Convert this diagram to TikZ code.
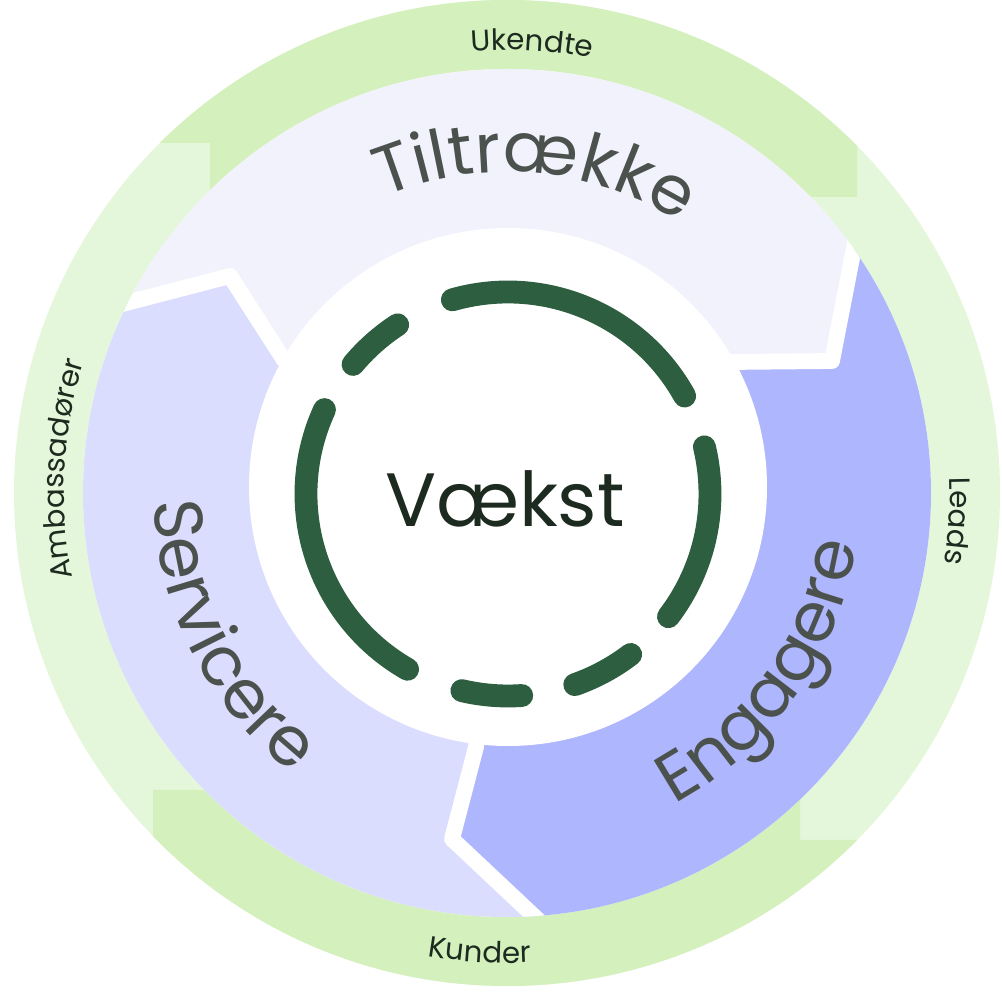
\documentclass[tikz,border=0pt]{standalone}
\usepackage{fontspec}
\setmainfont{Poppins}
\usetikzlibrary{decorations.text}

\definecolor{greendark}{HTML}{D4F0BC}
\definecolor{greenlight}{HTML}{E5F7DA}
\definecolor{tiltfill}{HTML}{F2F2FD}
\definecolor{servfill}{HTML}{DADDFE}
\definecolor{engfill}{HTML}{AEB6FD}
\definecolor{dashgreen}{HTML}{2C5E3F}
\definecolor{phasegray}{HTML}{4B514C}
\definecolor{labeldark}{HTML}{1D2A1F}

\newcommand*{\rout}{493}
\newcommand*{\rmid}{424}
\newcommand*{\rdisk}{259}
\newcommand*{\rdash}{202}
\newcommand*{\phasefont}{\fontsize{39}{41}\selectfont}
\newcommand*{\stagefont}{\fontsize{16.7}{18}\selectfont}

\begin{document}
\begin{tikzpicture}
[
	x=0.02cm, y=0.02cm,
	stagetext/.style={decorate,decoration={text along path,text align=center,text color=labeldark,text={|\stagefont|#1}}},
	phasetext/.style={decorate,decoration={text along path,text align=center,text color=phasegray,text={|\phasefont|#1}}},
	dashseg/.style={draw=dashgreen,line width=13pt,line cap=round},
	gapline/.style={draw=white,line width=9pt,line join=round}
]

	\useasboundingbox (0,0) rectangle (1002,1002);
	\coordinate (mid) at (507,509);
	\coordinate (disk) at (508,515);
	\coordinate (hub) at (508,508);

	% outer ring
	\fill[greenlight] (mid) circle[radius=\rout];
	\begin{scope}
		\clip (mid) circle[radius=\rout];
		\fill[greendark] (210,859) -- (100,859) -- (100,1100) -- (857,1100) -- (857,805) -- (700,805) -- (507,509) -- (210,700) -- cycle;
		\fill[greendark] (153,212) -- (310,212) -- (507,509) -- (800,300) -- (800,162) -- (950,162) -- (950,-100) -- (153,-100) -- cycle;
	\end{scope}
	\fill[white] (mid) circle[radius=\rmid];

	% phases
	\begin{scope}
		\clip (mid) circle[radius=\rmid];
		\fill[tiltfill] (507,509) -- (284,642) -- (230,726) -- (30,674) -- (-100,1100) -- (1100,1100) -- (872,849) -- (853,749) -- (832,641) -- (730,640) -- cycle;
		\fill[engfill] (507,509) -- (730,640) -- (832,641) -- (853,749) -- (872,849) -- (1100,1100) -- (1100,-100) -- (610,14) -- (536,84) -- (452,163) -- (476,255) -- cycle;
		\fill[servfill] (507,509) -- (476,255) -- (452,163) -- (536,84) -- (610,14) -- (-100,-100) -- (30,674) -- (230,726) -- (284,642) -- cycle;
		\draw[gapline] (507,509) -- (284,642) -- (230,726) -- (30,674);
		\draw[gapline] (507,509) -- (730,640) -- (832,641) -- (853,749) -- (872,849);
		\draw[gapline] (507,509) -- (476,255) -- (452,163) -- (536,84) -- (610,14);
	\end{scope}
	\fill[white] (disk) circle[radius=\rdisk];

	% dashed circle
	\foreach \a/\b in {29/106, -37.4/13.5, -70.7/-52.6, -103.2/-86.1, 155.3/240.2, 123.1/140.1}
		\draw[dashseg] ([shift={(\a:\rdash)}]hub) arc[start angle=\a, end angle=\b, radius=\rdash];

	\node[anchor=base,inner sep=0pt,text=labeldark,font=\fontsize{43}{45}\selectfont] (vaekst) at (505,475) {Vækst};

	% ring labels
	\path[phasetext=Tiltrække] ([shift={(125:321)}]mid) arc[start angle=125, end angle=45, radius=321];
	\path[phasetext=Engagere] ([shift={(-75:353)}]mid) arc[start angle=-75, end angle=5, radius=353];
	\path[phasetext=Servicere] ([shift={(167:353)}]mid) arc[start angle=167, end angle=247, radius=353];

	\path[stagetext=Ukendte] ([shift={(116.8:443)}]mid) arc[start angle=116.8, end angle=56.8, radius=443];
	\path[stagetext=Leads] ([shift={(26.4:443)}]mid) arc[start angle=26.4, end angle=-33.6, radius=443];
	\path[stagetext=Kunder] ([shift={(236.6:470)}]mid) arc[start angle=236.6, end angle=296.6, radius=470];
	\path[stagetext=Ambassadører] ([shift={(206.9:443)}]mid) arc[start angle=206.9, end angle=146.9, radius=443];

\end{tikzpicture}
\end{document}
